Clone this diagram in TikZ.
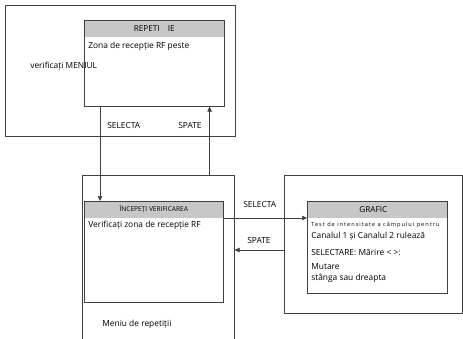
\documentclass[tikz,border=0pt]{standalone}
\usepackage{fontspec}
\setmainfont{Open Sans}
\usetikzlibrary{arrows.meta,positioning}

\begin{document}
\begin{tikzpicture}[x=1pt,y=-1pt,
    line width=0.6pt,
    frame/.style={draw=black!75, anchor=north west, inner sep=0pt},
    panel/.style={draw=black!75, anchor=north west, inner sep=0pt},
    head/.style={fill=black!22, anchor=north, inner sep=0pt, minimum height=16pt,
      font=\fontsize{8.2}{9}\selectfont},
    txt/.style={anchor=west, inner sep=0pt, font=\fontsize{8.4}{10}\selectfont},
    arr/.style={draw=black!75, -{Triangle[length=5pt,width=4.5pt]}}]
      \useasboundingbox (0,0) rectangle (463,338);
      \clip (0,0) rectangle (463,338);

      \node[frame, minimum width=230pt, minimum height=131pt] (verif) at (5,5) {};
      \node[frame, minimum width=152pt, minimum height=190pt] (meniu) at (82,175) {};
      \node[frame, minimum width=178pt, minimum height=138pt] (grafbox) at (284,175) {};

      \node[panel, minimum width=140pt, minimum height=86pt] (rep) at (84,20) {};
      \node[head, minimum width=139.4pt] (rephead) at ([yshift=-0.3pt]rep.north) {REPETI\quad IE};
      \node[panel, minimum width=139pt, minimum height=101pt] (beg) at (84,201) {};
      \node[head, minimum width=138.4pt, font=\fontsize{6.6}{7}\selectfont] (beghead) at ([yshift=-0.3pt]beg.north) {ÎNCEPEȚI VERIFICAREA};
      \node[panel, minimum width=140pt, minimum height=92pt] (graf) at (307,201) {};
      \node[head, minimum width=139.4pt] (grafhead) at ([yshift=-0.3pt]graf.north) {\hspace*{-8pt}GRAFIC};

      \node[txt] (reptxt) at (88,46) {Zona de recepție RF peste};
      \node[txt] (veriftxt) at (30,66) {verificați MENIUL};
      \node[txt] (begtxt) at (88,225) {Verificați zona de recepție RF};
      \node[txt] (meniutxt) at (102,324) {Meniu de repetiții};
      \node[txt, font=\fontsize{5.6}{6}\selectfont\addfontfeature{LetterSpace=18}] (graftxt) at (311,225) {Test de intensitate a câmpului pentru};
      \node[txt] (canal) at (311,236.5) {Canalul 1 și Canalul 2 rulează};
      \node[txt] (selmar) at (311,252) {SELECTARE: Mărire < >:};
      \node[txt] (mutare) at (311,267) {Mutare};
      \node[txt] (stanga) at (311,278) {stânga sau dreapta};

      \node[txt] (sel1) at (107,125) {SELECTA};
      \node[txt] (spate1) at (178,125) {SPATE};
      \node[txt] (sel2) at (243,204) {SELECTA};
      \node[txt] (spate2) at (247,240) {SPATE};

      \path
        ([xshift=16pt]rep.south west) edge[arr] ([xshift=16pt]rep.south west |- beg.north)
        ([xshift=-15pt]rep.south east |- meniu.north) edge[arr] ([xshift=-15pt]rep.south east)
        ([yshift=-17pt]beg.north east) edge[arr] ([yshift=-17pt]beg.north east -| graf.west)
        ([yshift=-75pt]grafbox.north west) edge[arr] ([yshift=-75pt]grafbox.north west -| meniu.east);
    \end{tikzpicture}
\end{document}
